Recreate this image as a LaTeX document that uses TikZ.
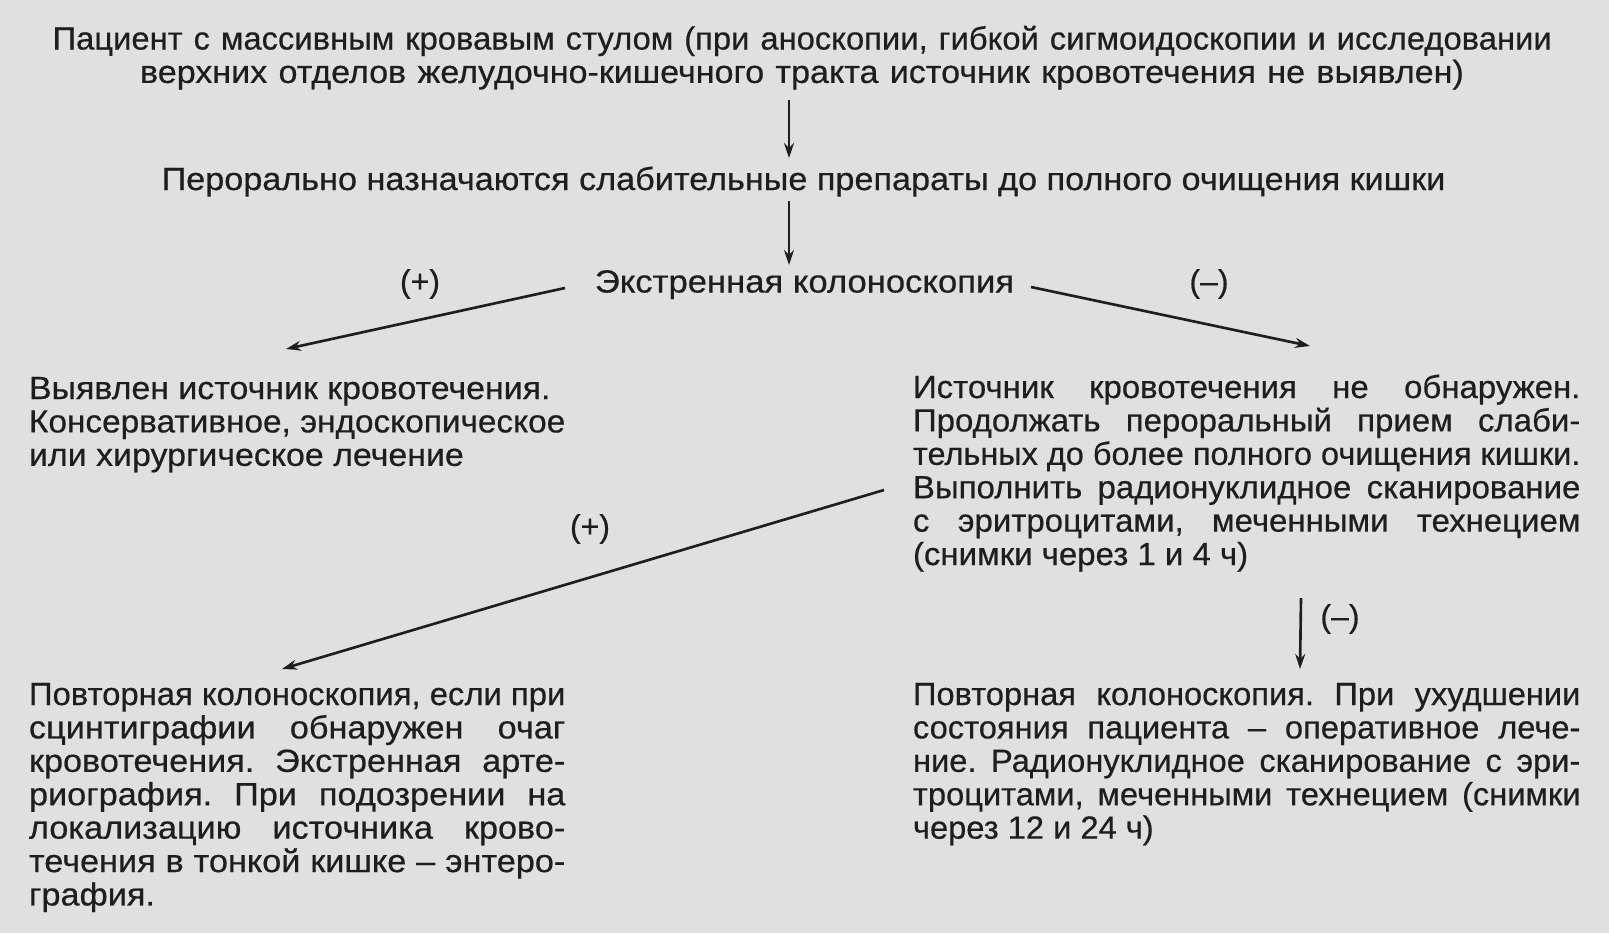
\documentclass[tikz,border=0pt]{standalone}
\usepackage{fontspec}
\setmainfont{Liberation Sans}[FakeBold=0.5]
\usepackage{graphicx}
\usepackage{tikz}
\usetikzlibrary{arrows.meta,positioning,calc}
\definecolor{fon}{RGB}{224,224,224}
\definecolor{chernila}{RGB}{30,30,30}
\newsavebox\strokabox
\newlength\strokadl
\newlength\strokacel
\def\rastyazh{1}
% коэффициент: не шире строки
\newcommand\koefstroki[1]{\sbox\strokabox{\spaceskip=0pt\xspaceskip=0pt #1}%
  \strokadl=\wd\strokabox
  \pgfmathsetmacro\koef{min(\rastyazh,\linewidth/\strokadl)}%
  \pgfmathsetlength\strokacel{\linewidth/\koef}}
% строка абзаца по всей ширине
\newcommand\stroka[1]{\koefstroki{#1}%
  \scalebox{\koef}[1]{\makebox[\strokacel][s]{\spaceskip=0pt\xspaceskip=0pt #1}}}
% свободная строка
\newcommand\svob[1]{\koefstroki{#1}\scalebox{\koef}[1]{\usebox\strokabox}}
\newcommand\shir[2]{\resizebox{#1}{\height}{#2}}
\tikzset{
  tekst/.style={inner sep=0pt,outer sep=0pt,text=chernila,
                font=\fontsize{9.1}{9.5}\selectfont\frenchspacing},
  abzac/.style={tekst,align=left,anchor=base west},
  rastyazh/.style={execute at begin node={\def\rastyazh{#1}}},
  strelka/.style={-{Stealth[length=0.15cm,width=0.1cm]},line width=0.75pt,draw=chernila},
  metka/.style={tekst},
}
\begin{document}
\begin{tikzpicture}[x=0.01cm,y=-0.01cm]
    \useasboundingbox (0,0) rectangle (1609,933);
    \fill[fon] (0,0) rectangle (1609,933);
    % шапка
    \node[tekst,text width=15.2cm,align=center,anchor=base] (pac) at (802,49.5)
      {\shir{14.98cm}{Пациент с массивным кровавым стулом (при аноскопии, гибкой сигмоидоскопии и исследовании}\\
       \shir{13.23cm}{верхних отделов желудочно-кишечного тракта источник кровотечения не выявлен)}};
    \node[tekst,anchor=base] (perr) at (803.5,190)
      {\shir{12.83cm}{Перорально назначаются слабительные препараты до полного очищения кишки}};
    \node[tekst,anchor=base] (kol) at (804.5,292.5) {\shir{4.19cm}{Экстренная колоноскопия}};
    % ветви
    \node[abzac,rastyazh=1.06,text width=5.36cm] (lev1) at (29,399)
      {\svob{Выявлен источник кровотечения.}\\
       \svob{Консервативное, эндоскопическое}\\
       \svob{или хирургическое лечение}};
    \node[abzac,rastyazh=1.03,text width=6.67cm] (prav1) at (913,398)
      {\stroka{Источник кровотечения не обнаружен.}\\
       \stroka{Продолжать пероральный прием слаби-}\\
       \stroka{тельных до более полного очищения кишки.}\\
       \stroka{Выполнить радионуклидное сканирование}\\
       \stroka{с эритроцитами, меченными технецием}\\
       \svob{(снимки через 1 и 4 ч)}};
    \node[abzac,rastyazh=1.07,text width=5.36cm] (lev2) at (29,705)
      {\stroka{Повторная колоноскопия, если при}\\
       \stroka{сцинтиграфии обнаружен очаг}\\
       \stroka{кровотечения. Экстренная арте-}\\
       \stroka{риография. При подозрении на}\\
       \stroka{локализацию источника крово-}\\
       \stroka{течения в тонкой кишке – энтеро-}\\
       \svob{графия.}};
    \node[abzac,rastyazh=1.02,text width=6.67cm] (prav2) at (913,705)
      {\stroka{Повторная колоноскопия. При ухудшении}\\
       \stroka{состояния пациента – оперативное лече-}\\
       \stroka{ние. Радионуклидное сканирование с эри-}\\
       \stroka{троцитами, меченными технецием (снимки}\\
       \svob{через 12 и 24 ч)}};
    \foreach \imya/\x/\y/\znak in {mp1/420/284/{(+)},mm1/1209/284/{(–)},
                                   mp2/590/529/{(+)},mm2/1340/619/{(–)}}
      \node[metka] (\imya) at (\x,\y) {\znak};
    % стрелки
    \draw[strelka] ($(pac.base)+(-13,50.5)$) -- ($(perr.base)+(-14.5,-32)$);
    \draw[strelka] ($(perr.base)+(-14.5,11)$) -- ($(kol.base)+(-15.5,-27.5)$);
    \draw[strelka] ($(kol.base)+(-239.5,-4.5)$) -- ($(lev1.base west)+(257,-50)$);
    \draw[strelka] ($(kol.base)+(226.5,-5.5)$) -- ($(prav1.base west)+(397,-52)$);
    \draw[strelka] ($(prav1.base west)+(-29,92)$) -- ($(lev2.base west)+(253,-36)$);
    \draw[strelka] ($(prav1.base west)+(388,200)$) -- ($(prav2.base west)+(387,-36)$);
  \end{tikzpicture}
\end{document}
